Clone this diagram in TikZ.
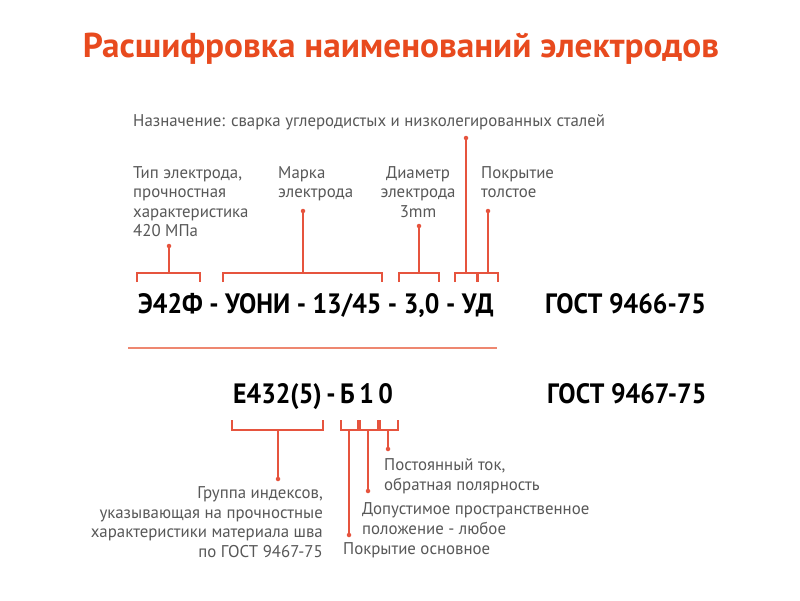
\documentclass[tikz,border=0pt]{standalone}
\usepackage{fontspec}
\setmainfont{PT Sans}
\newfontfamily\lblfont[FakeStretch=0.99]{PT Sans}
\newfontfamily\codefont[FakeStretch=0.92]{PT Sans}
\newfontfamily\headfont[FakeStretch=1.02]{PT Sans}
\newcommand\narrowsp{\spaceskip 4.5pt\relax}
\usetikzlibrary{math}
\definecolor{titlered}{RGB}{232,74,30}
\definecolor{linered}{RGB}{230,84,62}
\definecolor{seprose}{RGB}{238,135,112}
\definecolor{lblgray}{RGB}{88,88,88}

\begin{document}
\begin{tikzpicture}[x=1pt,y=-1pt,
    lbl/.style={font=\lblfont\fontsize{17}{19.5}\selectfont,text=lblgray,inner sep=0pt},
    code/.style={font=\codefont\bfseries\fontsize{28}{30}\selectfont,inner sep=0pt,anchor=base west},
    brk/.style={draw=linered,line width=1.4pt},
    dot/.style={circle,fill=linered,inner sep=0pt,minimum size=4.5pt}]
  \tikzmath{
    real \upline, \uptick, \lowline, \lowtick;
    \upline = 273; \uptick = 282;
    \lowline = 430; \lowtick = 420;
  }
  \fill[white] (0,0) rectangle (800,600);
  \useasboundingbox (0,0) rectangle (800,600);

  \node[font=\headfont\bfseries\fontsize{34.5}{36}\selectfont,text=titlered,inner sep=0pt,anchor=base] (title) at (401,57) {Расшифровка наименований электродов};

  % upper designation
  \node[lbl,anchor=west] (goal) at (133,122) {Назначение: сварка углеродистых и низколегированных сталей};
  \node[lbl,anchor=north west,align=left] (type) at (133,166) {Тип электрода,\\прочностная\\характеристика\\420 МПа};
  \node[lbl,anchor=north west,align=left] (brand) at (278,166) {Марка\\электрода};
  \node[lbl,anchor=north,align=center] (diam) at (418,166) {Диаметр\\электрода\\3mm};
  \node[lbl,anchor=north west,align=left] (cover) at (481,166) {Покрытие\\толстое};

  \node[code] (mark) at (138,313) {Э42Ф - УОНИ - 13/45 - 3,0 - УД};
  \node[code] (gost1) at (545,313) {ГОСТ 9466-75};

  \foreach \a/\b/\m [count=\i] in {137/200/169, 223/382/303, 399/439/419, 455/477/466, 478/498/488} {
    \draw[brk] (\a,\uptick) |- (\b,\upline) -- (\b,\uptick);
    \coordinate (t\i) at (\m,\upline);
  }
  \foreach \p/\i in {{(169,246)}/1, {(303,211)}/2, {(419,226)}/3, {(466,138)}/4, {(488,211)}/5} {
    \node[dot] (d\i) at \p {};
    \draw[brk] (d\i.center) -- (t\i);
  }

  \draw[draw=seprose,line width=1.4pt] (128,348) -- (497,348);

  % lower designation
  \node[code] (iso) at (233,403) {\narrowsp Е432(5) - Б 1 0};
  \node[code] (gost2) at (547,403) {ГОСТ 9467-75};

  \foreach \a/\b/\m [count=\i] in {232/323/278, 341/358/349, 360/378/368, 380/398/388} {
    \draw[brk] (\a,\lowtick) |- (\b,\lowline) -- (\b,\lowtick);
    \coordinate (s\i) at (\m,\lowline);
  }
  \foreach \p/\i in {{(278,479)}/1, {(349,535)}/2, {(368,491)}/3, {(388,449)}/4} {
    \node[dot] (e\i) at \p {};
    \draw[brk] (s\i) -- (e\i.center);
  }

  \node[lbl,anchor=north east,align=right] (group) at (323,486.5) {Группа индексов,\\указывающая на прочностные\\характеристики материала шва\\по ГОСТ 9467-75};
  \node[lbl,anchor=north west,align=left] (current) at (384,458.5) {Постоянный ток,\\обратная полярность};
  \node[lbl,anchor=north west,align=left] (pos) at (362,502.5) {Допустимое пространственное\\положение - любое};
  \node[lbl,anchor=west] (basic) at (343,550) {Покрытие основное};
\end{tikzpicture}
\end{document}
